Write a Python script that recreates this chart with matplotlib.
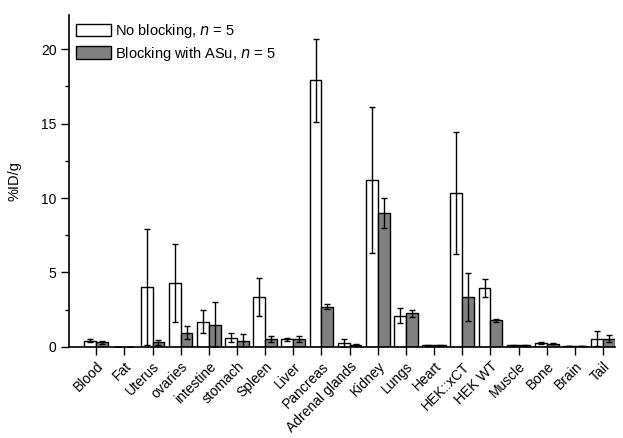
import numpy as np
import matplotlib.pyplot as plt
from matplotlib.ticker import MultipleLocator

plt.rcParams['font.family'] = ['Liberation Sans', 'DejaVu Sans']

organs = ["Blood", "Fat", "Uterus", "ovaries", "intestine", "stomach", "Spleen",
          "Liver", "Pancreas", "Adrenal glands", "Kidney", "Lungs", "Heart",
          "HEK::xCT", "HEK WT", "Muscle", "Bone", "Brain", "Tail"]

# %ID/g, no blocking
no_block = [0.4, 0.02, 4.05, 4.3, 1.7, 0.6, 3.35, 0.5, 17.9, 0.27, 11.2, 2.1,
            0.1, 10.35, 3.95, 0.1, 0.25, 0.05, 0.55]
no_block_err = [0.1, 0.0, 3.9, 2.6, 0.8, 0.3, 1.3, 0.1, 2.8, 0.25, 4.9, 0.5,
                0.05, 4.1, 0.6, 0.02, 0.05, 0.02, 0.5]

# %ID/g, blocking with ASu
block = [0.3, 0.02, 0.3, 0.95, 1.5, 0.4, 0.5, 0.55, 2.7, 0.15, 9.0, 2.25,
         0.1, 3.35, 1.8, 0.1, 0.2, 0.05, 0.55]
block_err = [0.1, 0.0, 0.15, 0.45, 1.5, 0.45, 0.2, 0.2, 0.15, 0.05, 1.0, 0.25,
             0.03, 1.6, 0.1, 0.02, 0.03, 0.02, 0.25]

x = np.arange(len(organs))
w = 0.42

fig = plt.figure(figsize=(6.23, 4.38), dpi=100)
ax = fig.add_axes([0.111, 0.208, 0.876, 0.758])

err_kw = dict(ecolor="black", elinewidth=1.0, capsize=2.2, capthick=1.0)
ax.bar(x - w / 2, no_block, w, yerr=no_block_err, color="white",
       edgecolor="black", linewidth=1.0, error_kw=err_kw,
       label="No blocking, $\\it{n}$ = 5")
ax.bar(x + w / 2, block, w, yerr=block_err, color="#808080",
       edgecolor="black", linewidth=1.0, error_kw=err_kw,
       label="Blocking with ASu, $\\it{n}$ = 5")

ax.set_xlim(-0.96, 18.42)
ax.set_ylim(0, 22.3)
ax.set_xticks(x)
ax.set_xticklabels(organs, rotation=45, ha="right", rotation_mode="anchor",
                   fontsize=9.5)
ax.yaxis.set_major_locator(MultipleLocator(5))
ax.yaxis.set_minor_locator(MultipleLocator(2.5))
ax.tick_params(axis="both", which="major", direction="out", length=5.5,
               width=1.0, labelsize=10)
ax.tick_params(axis="y", which="minor", direction="out", length=3, width=1.0)
ax.set_ylabel("%ID/g", fontsize=10.5, labelpad=14)

for s in ["top", "right"]:
    ax.spines[s].set_visible(False)
for s in ["left", "bottom"]:
    ax.spines[s].set_linewidth(1.2)

ax.legend(loc="upper left", bbox_to_anchor=(0.0, 1.0), frameon=False,
          fontsize=10.5, handlelength=2.4, handleheight=0.95,
          handletextpad=0.25, labelspacing=0.3, borderaxespad=0.2,
          borderpad=0.3)

fig.savefig("out.png", dpi=100)
